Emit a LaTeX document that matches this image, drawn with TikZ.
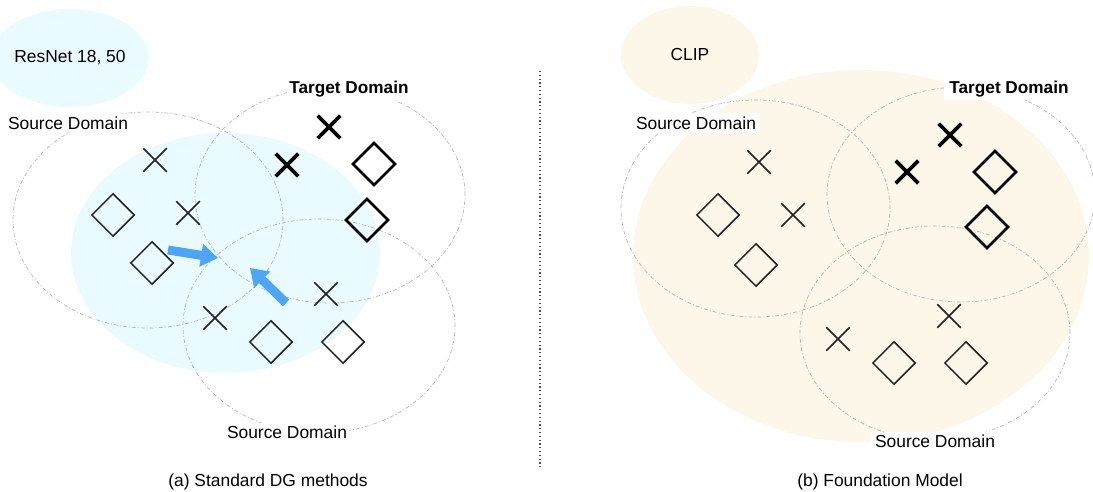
\documentclass[tikz,border=0pt]{standalone}
\usepackage{fontspec}
\setmainfont{Liberation Sans}
\usetikzlibrary{shapes.geometric,shapes.misc,arrows.meta}
\definecolor{cyanfill}{RGB}{233,251,254}
\definecolor{beigefill}{RGB}{253,247,234}
\definecolor{arrowblue}{RGB}{77,166,245}
\definecolor{markdark}{RGB}{34,34,34}
\tikzset{
  domcircle/.style={draw=black!28, line width=0.7pt, dash pattern=on 4pt off 2pt on 1pt off 2pt},
  lbl/.style={fill=white, inner sep=2.5pt, font=\fontsize{17.4}{20}\selectfont},
  tlbl/.style={lbl, font=\fontsize{17.2}{20}\selectfont\bfseries},
  caption/.style={inner sep=0pt, font=\fontsize{17.4}{20}\selectfont},
  model/.style={ellipse, inner sep=0pt, minimum width=138pt, minimum height=98pt, font=\fontsize{17.4}{20}\selectfont},
  xthin/.style={cross out, draw=markdark, line width=1.5pt, minimum size=22pt, inner sep=0pt},
  xthick/.style={cross out, draw=black, line width=3.6pt, minimum size=19pt, inner sep=0pt},
  dthin/.style={diamond, draw=markdark, line width=1.5pt, minimum size=43pt, inner sep=0pt},
  dthick/.style={diamond, draw=black, line width=2.6pt, minimum size=43pt, inner sep=0pt},
  bluearrow/.style={draw=arrowblue, line width=9pt, -{Triangle[length=17pt,width=22pt]}},
}
\begin{document}
\begin{tikzpicture}[x=1pt,y=-1pt]
\useasboundingbox (0,0) rectangle (1093,492);
% ---------------- left panel ----------------
\fill[cyanfill] (225.5,253) ellipse [x radius=154.5pt, y radius=120pt];
\node[model, fill=cyanfill] (resnet) at (70,58) {ResNet 18, 50};
\draw[domcircle] (148,220) ellipse [x radius=135pt, y radius=108pt];
\draw[domcircle] (330,195) ellipse [x radius=135pt, y radius=108pt];
\draw[domcircle] (319,326) ellipse [x radius=136pt, y radius=107pt];
\node[lbl] (lsrc1) at (68,123) {Source Domain};
\node[tlbl] (ltgt) at (349,89) {Target Domain};
\node[lbl] (lsrc2) at (287,432) {Source Domain};
% markers
\node[xthin] (lx1) at (155,160) {};
\node[xthin] (lx2) at (188,213) {};
\node[xthin] (lx3) at (215,318) {};
\node[xthin] (lx4) at (326,294) {};
\node[xthick] (ltx1) at (329,127) {};
\node[xthick] (ltx2) at (287,165) {};
\node[dthin] (ld1) at (113,215) {};
\node[dthin] (ld2) at (152,263) {};
\node[dthin] (ld3) at (271,342) {};
\node[dthin] (ld4) at (343,342) {};
\node[dthick] (ltd1) at (374,164) {};
\node[dthick] (ltd2) at (367,220) {};
% arrows
\coordinate (a1s) at (168,250);
\coordinate (a1e) at (218,258);
\coordinate (a2s) at (286,303);
\coordinate (a2e) at (250,268);
\draw[bluearrow] (a1s) -- (a1e);
\draw[bluearrow] (a2s) -- (a2e);
\node[caption] (capa) at (268,482) {(a) Standard DG methods};
% divider
\coordinate (divtop) at (540,71);
\coordinate (divbot) at (540,468);
\draw[black!70, line width=1.2pt, dash pattern=on 1.2pt off 2.6pt] (divtop) -- (divbot);
% ---------------- right panel ----------------
\fill[beigefill] (861,256) ellipse [x radius=228pt, y radius=186pt];
\node[model, fill=beigefill] (clip) at (690,55) {CLIP};
\draw[domcircle] (755.5,208.5) ellipse [x radius=134.5pt, y radius=108.5pt];
\draw[domcircle] (961,194.5) ellipse [x radius=134pt, y radius=107.5pt];
\draw[domcircle] (935,333) ellipse [x radius=135pt, y radius=107pt];
\node[lbl, inner xsep=4pt, inner ysep=4pt] (rsrc1) at (696,123) {Source Domain};
\node[tlbl, inner xsep=5pt] (rtgt) at (1009,89) {Target Domain};
\node[lbl, inner xsep=5pt] (rsrc2) at (935,441) {Source Domain};
\node[xthin] (rx1) at (759,162) {};
\node[xthin] (rx2) at (793,215) {};
\node[xthin] (rx3) at (838,339) {};
\node[xthin] (rx4) at (949,316) {};
\node[xthick] (rtx1) at (950,135) {};
\node[xthick] (rtx2) at (907,172) {};
\node[dthin] (rd1) at (718,215) {};
\node[dthin] (rd2) at (756,265) {};
\node[dthin] (rd3) at (894,363) {};
\node[dthin] (rd4) at (966,363) {};
\node[dthick] (rtd1) at (995,172) {};
\node[dthick] (rtd2) at (987,227) {};
\node[caption] (capb) at (880,482) {(b) Foundation Model};
\end{tikzpicture}
\end{document}
